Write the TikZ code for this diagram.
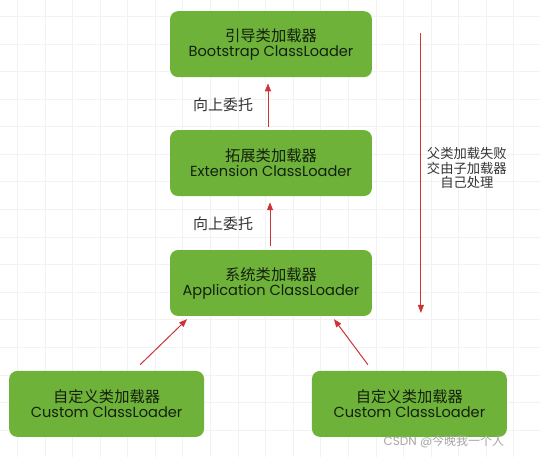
\documentclass[tikz,border=0pt]{standalone}
\usepackage{fontspec}
\setmainfont{Poppins}
\newfontfamily\cjk{Noto Sans CJK SC}
\usetikzlibrary{arrows.meta}
\definecolor{loadgreen}{RGB}{110,178,58}
\definecolor{loadtext}{RGB}{20,32,14}
\definecolor{upred}{RGB}{205,52,58}

\begin{document}
\begin{tikzpicture}[x=1pt,y=1pt,
        loader/.style={rounded corners=8pt, fill=loadgreen, minimum width=202pt, minimum height=66pt, align=center, text=loadtext, font=\fontsize{14.6}{15}\selectfont},
        custom/.style={loader, minimum width=195pt},
        up/.style={draw=upred, line width=1pt, -{Triangle[length=8pt,width=6pt]}},
        note/.style={text=black!80, align=center, font=\cjk\fontsize{13.3}{14.5}\selectfont}]
    \fill[white] (0,0) rectangle (540,457);
    \foreach \x in {17,44.6,...,540} \draw[black!5] (\x,0) -- (\x,457);
    \foreach \y in {27,54.6,...,457} \draw[black!5] (0,\y) -- (540,\y);
    \node[loader] (boot) at (271,413) {{\cjk\fontsize{15.3}{15}\selectfont 引导类加载器}\\Bootstrap ClassLoader};
    \node[loader] (ext) at (271,294) {{\cjk\fontsize{15.3}{15}\selectfont 拓展类加载器}\\Extension ClassLoader};
    \node[loader] (app) at (271,174) {{\cjk\fontsize{15.3}{15}\selectfont 系统类加载器}\\Application ClassLoader};
    \node[custom] (left) at (106.5,53) {{\cjk\fontsize{15.3}{15}\selectfont 自定义类加载器}\\Custom ClassLoader};
    \node[custom] (right) at (409.5,53) {{\cjk\fontsize{15.3}{15}\selectfont 自定义类加载器}\\Custom ClassLoader};
    \draw[up] ([xshift=-3pt,yshift=3pt]ext.north) -- ([xshift=-3pt,yshift=-6pt]boot.south);
    \draw[up] ([xshift=-1pt,yshift=4pt]app.north) -- ([xshift=-1pt,yshift=-6pt]ext.south);
    \draw[up] ([xshift=33.5pt,yshift=6pt]left.north) -- ([xshift=-84pt,yshift=-3pt]app.south);
    \draw[up] ([xshift=-41.5pt,yshift=6pt]right.north) -- ([xshift=63pt,yshift=-3pt]app.south);
    \node[note, font=\cjk\fontsize{15}{15}\selectfont] (upa) at (223,352) {向上委托};
    \node[note, font=\cjk\fontsize{15}{15}\selectfont] (upb) at (223,233) {向上委托};
    \coordinate (failtop) at (421,424);
    \coordinate (failend) at (421,144);
    \draw[up] (failtop) -- (failend);
    \node[note] (fail) at (467,289) {父类加载失败\\交由子加载器\\自己处理};
    \node[text=black!35, font=\fontsize{12}{14}\selectfont] (mark) at (444,15) {CSDN @{\cjk 今晚我一个人}};
\end{tikzpicture}
\end{document}
